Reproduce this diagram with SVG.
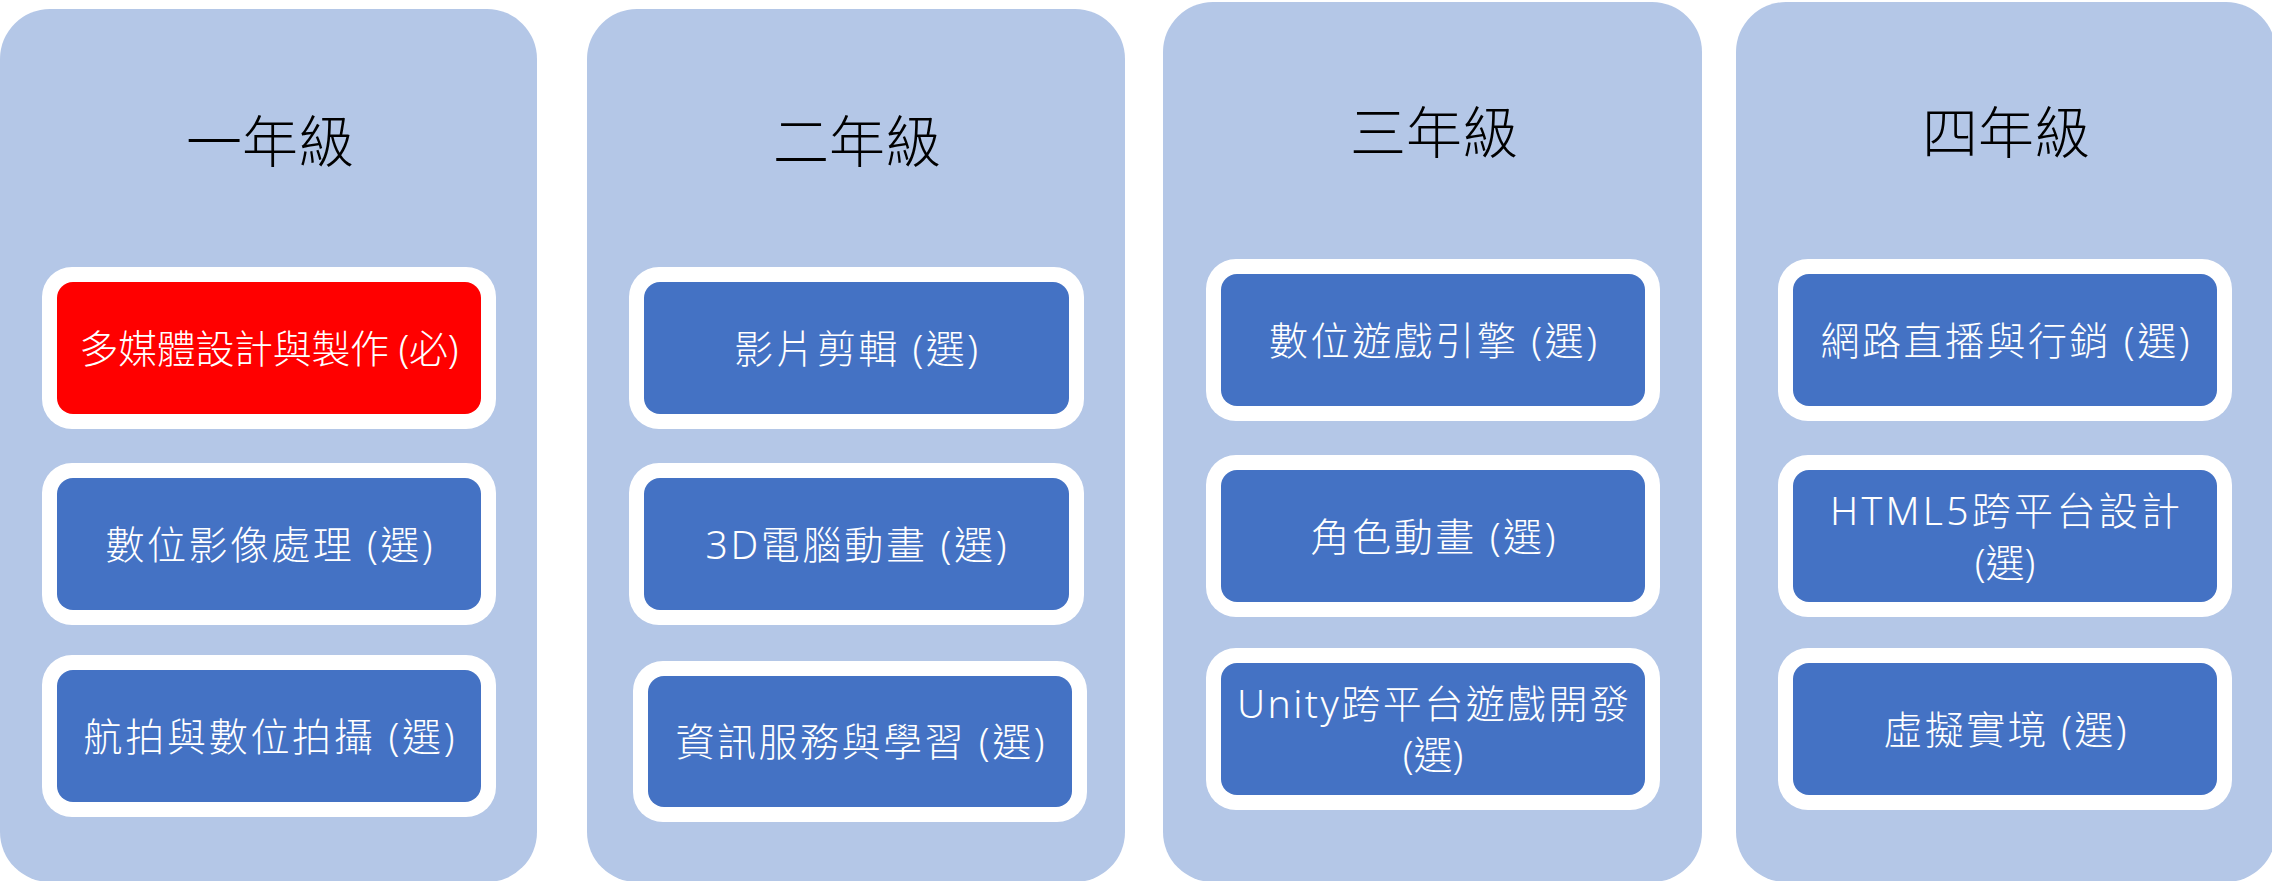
<svg xmlns="http://www.w3.org/2000/svg" width="2272" height="881" viewBox="0 0 2272 881">
<style>
.col{fill:#B4C7E7}
.frame{fill:#FFFFFF}
.box{fill:#4472C4}
.req{fill:#FF0000}
.title{font-family:"Noto Sans","Noto Sans CJK TC",sans-serif;font-size:56px;font-weight:300;fill:#000000;text-anchor:middle}
.lbl{font-family:"Noto Sans","Noto Sans CJK TC",sans-serif;font-size:39px;font-weight:300;fill:#FFFFFF;text-anchor:middle}
</style>
<rect width="2272" height="881" fill="#FFFFFF"/>
<g id="year1">
<rect class="col" x="0" y="9" width="537" height="873" rx="50"/>
<text class="title" x="270" y="162">一年級</text>
</g>
<g id="year2">
<rect class="col" x="587" y="9" width="538" height="873" rx="50"/>
<text class="title" x="857" y="162">二年級</text>
</g>
<g id="year3">
<rect class="col" x="1163" y="2" width="539" height="880" rx="50"/>
<text class="title" x="1434" y="153">三年級</text>
</g>
<g id="year4">
<rect class="col" x="1736" y="2" width="540" height="880" rx="50"/>
<text class="title" x="2006" y="153">四年級</text>
</g>

<g id="c1b1">
<rect class="frame" x="42" y="267" width="454" height="162" rx="30"/>
<rect class="req" x="57" y="282" width="424" height="132" rx="16"/>
<text class="lbl" x="269" y="363" textLength="379">多媒體設計與製作 (必)</text>
</g>
<g id="c1b2">
<rect class="frame" x="42" y="463" width="454" height="162" rx="30"/>
<rect class="box" x="57" y="478" width="424" height="132" rx="16"/>
<text class="lbl" x="269" y="559" textLength="327">數位影像處理 (選)</text>
</g>
<g id="c1b3">
<rect class="frame" x="42" y="655" width="454" height="162" rx="30"/>
<rect class="box" x="57" y="670" width="424" height="132" rx="16"/>
<text class="lbl" x="269" y="751" textLength="371">航拍與數位拍攝 (選)</text>
</g>

<g id="c2b1">
<rect class="frame" x="629" y="267" width="455" height="162" rx="30"/>
<rect class="box" x="644" y="282" width="425" height="132" rx="16"/>
<text class="lbl" x="856" y="363" textLength="244">影片剪輯 (選)</text>
</g>
<g id="c2b2">
<rect class="frame" x="629" y="463" width="455" height="162" rx="30"/>
<rect class="box" x="644" y="478" width="425" height="132" rx="16"/>
<text class="lbl" x="856" y="559" textLength="301">3D電腦動畫 (選)</text>
</g>
<g id="c2b3">
<rect class="frame" x="633" y="661" width="454" height="161" rx="30"/>
<rect class="box" x="648" y="676" width="424" height="131" rx="16"/>
<text class="lbl" x="860" y="756" textLength="369">資訊服務與學習 (選)</text>
</g>

<g id="c3b1">
<rect class="frame" x="1206" y="259" width="454" height="162" rx="30"/>
<rect class="box" x="1221" y="274" width="424" height="132" rx="16"/>
<text class="lbl" x="1433" y="355" textLength="328">數位遊戲引擎 (選)</text>
</g>
<g id="c3b2">
<rect class="frame" x="1206" y="455" width="454" height="162" rx="30"/>
<rect class="box" x="1221" y="470" width="424" height="132" rx="16"/>
<text class="lbl" x="1433" y="551" textLength="245">角色動畫 (選)</text>
</g>
<g id="c3b3">
<rect class="frame" x="1206" y="648" width="454" height="162" rx="30"/>
<rect class="box" x="1221" y="663" width="424" height="132" rx="16"/>
<text class="lbl" x="1433" y="718" textLength="392">Unity跨平台遊戲開發</text>
<text class="lbl" x="1433" y="769">(選)</text>
</g>

<g id="c4b1">
<rect class="frame" x="1778" y="259" width="454" height="162" rx="30"/>
<rect class="box" x="1793" y="274" width="424" height="132" rx="16"/>
<text class="lbl" x="2005" y="355" textLength="369">網路直播與行銷 (選)</text>
</g>
<g id="c4b2">
<rect class="frame" x="1778" y="455" width="454" height="162" rx="30"/>
<rect class="box" x="1793" y="470" width="424" height="132" rx="16"/>
<text class="lbl" x="2005" y="525" textLength="350">HTML5跨平台設計</text>
<text class="lbl" x="2005" y="577">(選)</text>
</g>
<g id="c4b3">
<rect class="frame" x="1778" y="648" width="454" height="162" rx="30"/>
<rect class="box" x="1793" y="663" width="424" height="132" rx="16"/>
<text class="lbl" x="2005" y="744" textLength="243">虛擬實境 (選)</text>
</g>
<g id="connectors"></g>
</svg>
